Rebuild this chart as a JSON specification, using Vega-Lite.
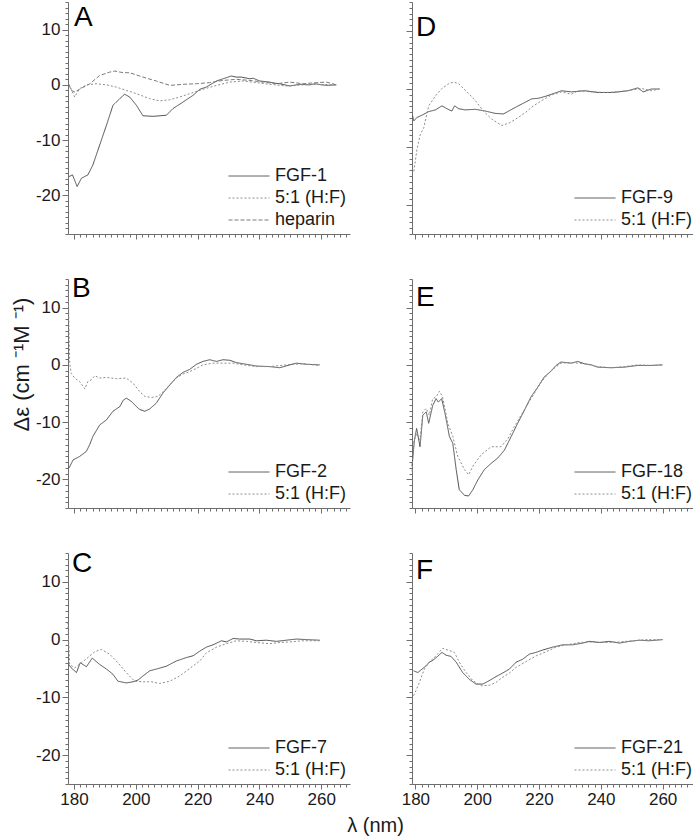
{
  "$schema": "https://vega.github.io/schema/vega-lite/v6.json",
  "background": "white",
  "padding": {"left": 9, "top": -7, "right": 0, "bottom": 2},
  "config": {
    "font": "Liberation Sans",
    "view": {"stroke": null},
    "axis": {"domainColor": "#6e6e6e", "tickColor": "#6e6e6e", "domainWidth": 1, "tickWidth": 1, "labelColor": "#1a1a1a", "labelFontSize": 17, "labelFont": "Liberation Sans", "grid": false, "labelOverlap": false, "labelFlush": false, "titleFontWeight": "normal", "titleColor": "#1a1a1a", "titleFont": "Liberation Sans", "labelPadding": 2},
    "legend": {"orient": "bottom-right", "offset": 3, "symbolType": "stroke", "symbolSize": 1681, "symbolStrokeWidth": 1, "clipHeight": 22, "rowPadding": 0, "labelFontSize": 18, "labelFont": "Liberation Sans", "labelColor": "#1a1a1a", "labelOffset": 5, "padding": 0, "labelLimit": 0},
    "title": {"anchor": "start", "frame": "group", "fontSize": 28, "fontWeight": "normal", "color": "#000000", "baseline": "top", "font": "Liberation Sans"},
    "line": {"strokeWidth": 1, "clip": true}
  },
  "datasets": {
    "A": [
      {"x":178.4,"y":-16.6,"s":"FGF-1"},{"x":179.5,"y":-16.3,"s":"FGF-1"},{"x":181.0,"y":-18.4,"s":"FGF-1"},{"x":182.4,"y":-16.9,"s":"FGF-1"},{"x":184.5,"y":-16.3,"s":"FGF-1"},{"x":186.1,"y":-14.5,"s":"FGF-1"},{"x":188.3,"y":-10.9,"s":"FGF-1"},{"x":190.5,"y":-7.3,"s":"FGF-1"},{"x":192.6,"y":-3.7,"s":"FGF-1"},{"x":194.8,"y":-2.5,"s":"FGF-1"},{"x":196.4,"y":-1.7,"s":"FGF-1"},{"x":198.0,"y":-2.2,"s":"FGF-1"},{"x":200.2,"y":-3.7,"s":"FGF-1"},{"x":202.3,"y":-5.6,"s":"FGF-1"},{"x":205.6,"y":-5.7,"s":"FGF-1"},{"x":209.9,"y":-5.5,"s":"FGF-1"},{"x":212.0,"y":-4.3,"s":"FGF-1"},{"x":215.3,"y":-3.1,"s":"FGF-1"},{"x":218.5,"y":-1.9,"s":"FGF-1"},{"x":220.7,"y":-0.8,"s":"FGF-1"},{"x":222.8,"y":-0.4,"s":"FGF-1"},{"x":226.1,"y":0.7,"s":"FGF-1"},{"x":229.3,"y":1.3,"s":"FGF-1"},{"x":230.9,"y":1.6,"s":"FGF-1"},{"x":232.5,"y":1.4,"s":"FGF-1"},{"x":234.2,"y":1.4,"s":"FGF-1"},{"x":236.9,"y":1.1,"s":"FGF-1"},{"x":238.0,"y":1.2,"s":"FGF-1"},{"x":240.1,"y":0.7,"s":"FGF-1"},{"x":243.3,"y":0.5,"s":"FGF-1"},{"x":245.0,"y":0.3,"s":"FGF-1"},{"x":246.6,"y":0.2,"s":"FGF-1"},{"x":249.8,"y":-0.2,"s":"FGF-1"},{"x":251.0,"y":-0.1,"s":"FGF-1"},{"x":253.0,"y":0.1,"s":"FGF-1"},{"x":256.3,"y":0.0,"s":"FGF-1"},{"x":258.0,"y":0.2,"s":"FGF-1"},{"x":260.0,"y":0.0,"s":"FGF-1"},{"x":262.0,"y":-0.1,"s":"FGF-1"},{"x":264.9,"y":0.0,"s":"FGF-1"},
      {"x":178.4,"y":0.1,"s":"5:1 (H:F)"},{"x":180.2,"y":-2.2,"s":"5:1 (H:F)"},{"x":181.8,"y":-0.7,"s":"5:1 (H:F)"},{"x":184.0,"y":0.0,"s":"5:1 (H:F)"},{"x":187.2,"y":0.2,"s":"5:1 (H:F)"},{"x":190.5,"y":0.0,"s":"5:1 (H:F)"},{"x":193.7,"y":-0.4,"s":"5:1 (H:F)"},{"x":196.9,"y":-1.0,"s":"5:1 (H:F)"},{"x":200.2,"y":-1.6,"s":"5:1 (H:F)"},{"x":204.5,"y":-2.5,"s":"5:1 (H:F)"},{"x":207.7,"y":-2.9,"s":"5:1 (H:F)"},{"x":211.0,"y":-2.7,"s":"5:1 (H:F)"},{"x":214.2,"y":-2.2,"s":"5:1 (H:F)"},{"x":217.4,"y":-1.6,"s":"5:1 (H:F)"},{"x":221.7,"y":-0.8,"s":"5:1 (H:F)"},{"x":226.1,"y":-0.1,"s":"5:1 (H:F)"},{"x":230.4,"y":0.5,"s":"5:1 (H:F)"},{"x":234.7,"y":0.7,"s":"5:1 (H:F)"},{"x":239.0,"y":0.4,"s":"5:1 (H:F)"},{"x":243.3,"y":0.1,"s":"5:1 (H:F)"},{"x":248.7,"y":-0.2,"s":"5:1 (H:F)"},{"x":254.1,"y":0.0,"s":"5:1 (H:F)"},{"x":259.5,"y":0.1,"s":"5:1 (H:F)"},{"x":264.9,"y":0.0,"s":"5:1 (H:F)"},
      {"x":178.4,"y":0.0,"s":"heparin"},{"x":179.1,"y":-1.0,"s":"heparin"},{"x":180.2,"y":-1.3,"s":"heparin"},{"x":181.8,"y":-0.8,"s":"heparin"},{"x":185.1,"y":0.2,"s":"heparin"},{"x":188.3,"y":1.7,"s":"heparin"},{"x":191.5,"y":2.3,"s":"heparin"},{"x":193.2,"y":2.5,"s":"heparin"},{"x":195.9,"y":2.2,"s":"heparin"},{"x":198.0,"y":2.2,"s":"heparin"},{"x":202.3,"y":1.4,"s":"heparin"},{"x":206.6,"y":0.7,"s":"heparin"},{"x":211.0,"y":-0.1,"s":"heparin"},{"x":215.3,"y":0.1,"s":"heparin"},{"x":219.6,"y":0.2,"s":"heparin"},{"x":223.9,"y":0.4,"s":"heparin"},{"x":228.2,"y":0.8,"s":"heparin"},{"x":232.5,"y":1.0,"s":"heparin"},{"x":236.9,"y":0.8,"s":"heparin"},{"x":241.2,"y":0.5,"s":"heparin"},{"x":245.5,"y":0.2,"s":"heparin"},{"x":249.8,"y":0.5,"s":"heparin"},{"x":254.1,"y":0.2,"s":"heparin"},{"x":258.4,"y":0.4,"s":"heparin"},{"x":261.7,"y":0.5,"s":"heparin"},{"x":264.9,"y":0.0,"s":"heparin"}
    ],
    "B": [
      {"x":178.4,"y":-18.0,"s":"FGF-2"},{"x":179.7,"y":-16.6,"s":"FGF-2"},{"x":181.8,"y":-16.0,"s":"FGF-2"},{"x":184.0,"y":-15.1,"s":"FGF-2"},{"x":185.1,"y":-13.9,"s":"FGF-2"},{"x":186.1,"y":-12.5,"s":"FGF-2"},{"x":188.3,"y":-10.5,"s":"FGF-2"},{"x":190.5,"y":-9.6,"s":"FGF-2"},{"x":192.6,"y":-8.1,"s":"FGF-2"},{"x":194.8,"y":-7.3,"s":"FGF-2"},{"x":195.9,"y":-6.2,"s":"FGF-2"},{"x":196.9,"y":-5.8,"s":"FGF-2"},{"x":198.6,"y":-6.4,"s":"FGF-2"},{"x":200.2,"y":-7.3,"s":"FGF-2"},{"x":201.3,"y":-7.8,"s":"FGF-2"},{"x":202.9,"y":-8.1,"s":"FGF-2"},{"x":204.5,"y":-7.7,"s":"FGF-2"},{"x":206.6,"y":-6.7,"s":"FGF-2"},{"x":208.8,"y":-4.9,"s":"FGF-2"},{"x":211.0,"y":-3.5,"s":"FGF-2"},{"x":213.1,"y":-2.2,"s":"FGF-2"},{"x":215.3,"y":-1.3,"s":"FGF-2"},{"x":217.4,"y":-0.8,"s":"FGF-2"},{"x":219.6,"y":0.1,"s":"FGF-2"},{"x":221.7,"y":0.6,"s":"FGF-2"},{"x":223.9,"y":0.9,"s":"FGF-2"},{"x":226.1,"y":0.6,"s":"FGF-2"},{"x":228.2,"y":0.9,"s":"FGF-2"},{"x":230.4,"y":0.8,"s":"FGF-2"},{"x":232.5,"y":0.4,"s":"FGF-2"},{"x":235.8,"y":0.1,"s":"FGF-2"},{"x":239.0,"y":-0.2,"s":"FGF-2"},{"x":243.3,"y":-0.3,"s":"FGF-2"},{"x":246.6,"y":-0.5,"s":"FGF-2"},{"x":249.8,"y":0.0,"s":"FGF-2"},{"x":252.0,"y":0.3,"s":"FGF-2"},{"x":255.2,"y":0.1,"s":"FGF-2"},{"x":259.5,"y":0.0,"s":"FGF-2"},
      {"x":178.1,"y":14.0,"s":"5:1 (H:F)"},{"x":178.4,"y":5.5,"s":"5:1 (H:F)"},{"x":178.6,"y":0.3,"s":"5:1 (H:F)"},{"x":179.1,"y":-1.5,"s":"5:1 (H:F)"},{"x":180.2,"y":-2.3,"s":"5:1 (H:F)"},{"x":181.8,"y":-2.9,"s":"5:1 (H:F)"},{"x":183.5,"y":-4.2,"s":"5:1 (H:F)"},{"x":184.5,"y":-2.9,"s":"5:1 (H:F)"},{"x":185.6,"y":-2.6,"s":"5:1 (H:F)"},{"x":186.7,"y":-1.9,"s":"5:1 (H:F)"},{"x":188.3,"y":-2.3,"s":"5:1 (H:F)"},{"x":190.5,"y":-2.2,"s":"5:1 (H:F)"},{"x":193.7,"y":-2.4,"s":"5:1 (H:F)"},{"x":196.9,"y":-2.3,"s":"5:1 (H:F)"},{"x":199.1,"y":-3.2,"s":"5:1 (H:F)"},{"x":201.3,"y":-4.7,"s":"5:1 (H:F)"},{"x":202.9,"y":-5.5,"s":"5:1 (H:F)"},{"x":205.0,"y":-5.7,"s":"5:1 (H:F)"},{"x":207.2,"y":-5.5,"s":"5:1 (H:F)"},{"x":208.8,"y":-4.7,"s":"5:1 (H:F)"},{"x":211.0,"y":-3.5,"s":"5:1 (H:F)"},{"x":213.1,"y":-2.3,"s":"5:1 (H:F)"},{"x":215.3,"y":-1.6,"s":"5:1 (H:F)"},{"x":217.4,"y":-1.2,"s":"5:1 (H:F)"},{"x":219.6,"y":-0.6,"s":"5:1 (H:F)"},{"x":221.7,"y":0.0,"s":"5:1 (H:F)"},{"x":225.0,"y":0.3,"s":"5:1 (H:F)"},{"x":228.2,"y":0.3,"s":"5:1 (H:F)"},{"x":231.5,"y":0.3,"s":"5:1 (H:F)"},{"x":234.7,"y":0.0,"s":"5:1 (H:F)"},{"x":239.0,"y":-0.3,"s":"5:1 (H:F)"},{"x":243.3,"y":-0.3,"s":"5:1 (H:F)"},{"x":248.7,"y":0.0,"s":"5:1 (H:F)"},{"x":254.1,"y":0.2,"s":"5:1 (H:F)"},{"x":259.5,"y":-0.1,"s":"5:1 (H:F)"}
    ],
    "C": [
      {"x":178.3,"y":-4.3,"s":"FGF-7"},{"x":179.1,"y":-4.9,"s":"FGF-7"},{"x":180.8,"y":-5.7,"s":"FGF-7"},{"x":182.0,"y":-4.0,"s":"FGF-7"},{"x":182.9,"y":-4.3,"s":"FGF-7"},{"x":184.0,"y":-4.7,"s":"FGF-7"},{"x":185.9,"y":-3.2,"s":"FGF-7"},{"x":188.3,"y":-4.3,"s":"FGF-7"},{"x":190.5,"y":-5.1,"s":"FGF-7"},{"x":192.6,"y":-6.0,"s":"FGF-7"},{"x":194.2,"y":-7.2,"s":"FGF-7"},{"x":196.9,"y":-7.5,"s":"FGF-7"},{"x":199.1,"y":-7.3,"s":"FGF-7"},{"x":200.7,"y":-7.0,"s":"FGF-7"},{"x":202.3,"y":-6.3,"s":"FGF-7"},{"x":204.5,"y":-5.4,"s":"FGF-7"},{"x":206.6,"y":-5.1,"s":"FGF-7"},{"x":209.9,"y":-4.6,"s":"FGF-7"},{"x":213.1,"y":-3.7,"s":"FGF-7"},{"x":216.4,"y":-3.1,"s":"FGF-7"},{"x":218.5,"y":-2.8,"s":"FGF-7"},{"x":220.7,"y":-2.0,"s":"FGF-7"},{"x":222.8,"y":-1.3,"s":"FGF-7"},{"x":225.0,"y":-0.9,"s":"FGF-7"},{"x":227.7,"y":-0.2,"s":"FGF-7"},{"x":229.3,"y":-0.4,"s":"FGF-7"},{"x":231.5,"y":0.2,"s":"FGF-7"},{"x":233.6,"y":0.1,"s":"FGF-7"},{"x":236.9,"y":0.1,"s":"FGF-7"},{"x":239.0,"y":-0.2,"s":"FGF-7"},{"x":242.2,"y":-0.1,"s":"FGF-7"},{"x":245.5,"y":-0.3,"s":"FGF-7"},{"x":248.7,"y":-0.1,"s":"FGF-7"},{"x":252.0,"y":0.1,"s":"FGF-7"},{"x":255.2,"y":0.0,"s":"FGF-7"},{"x":259.5,"y":-0.1,"s":"FGF-7"},
      {"x":178.0,"y":3.0,"s":"5:1 (H:F)"},{"x":178.6,"y":-4.3,"s":"5:1 (H:F)"},{"x":180.2,"y":-4.9,"s":"5:1 (H:F)"},{"x":182.4,"y":-4.0,"s":"5:1 (H:F)"},{"x":184.5,"y":-3.1,"s":"5:1 (H:F)"},{"x":186.7,"y":-2.1,"s":"5:1 (H:F)"},{"x":188.8,"y":-1.7,"s":"5:1 (H:F)"},{"x":191.5,"y":-2.5,"s":"5:1 (H:F)"},{"x":194.2,"y":-4.0,"s":"5:1 (H:F)"},{"x":196.9,"y":-5.7,"s":"5:1 (H:F)"},{"x":199.6,"y":-7.2,"s":"5:1 (H:F)"},{"x":202.3,"y":-7.3,"s":"5:1 (H:F)"},{"x":205.0,"y":-7.3,"s":"5:1 (H:F)"},{"x":207.7,"y":-7.6,"s":"5:1 (H:F)"},{"x":211.0,"y":-7.2,"s":"5:1 (H:F)"},{"x":214.2,"y":-6.3,"s":"5:1 (H:F)"},{"x":217.4,"y":-5.0,"s":"5:1 (H:F)"},{"x":220.7,"y":-3.7,"s":"5:1 (H:F)"},{"x":222.8,"y":-2.3,"s":"5:1 (H:F)"},{"x":226.1,"y":-1.3,"s":"5:1 (H:F)"},{"x":229.3,"y":-0.7,"s":"5:1 (H:F)"},{"x":232.5,"y":-0.2,"s":"5:1 (H:F)"},{"x":235.8,"y":-0.3,"s":"5:1 (H:F)"},{"x":239.0,"y":-0.5,"s":"5:1 (H:F)"},{"x":243.3,"y":-0.7,"s":"5:1 (H:F)"},{"x":246.6,"y":-0.5,"s":"5:1 (H:F)"},{"x":249.8,"y":-0.4,"s":"5:1 (H:F)"},{"x":254.1,"y":-0.2,"s":"5:1 (H:F)"},{"x":259.5,"y":-0.2,"s":"5:1 (H:F)"}
    ],
    "D": [
      {"x":179.1,"y":-4.6,"s":"FGF-9"},{"x":179.5,"y":-5.5,"s":"FGF-9"},{"x":180.5,"y":-4.9,"s":"FGF-9"},{"x":182.2,"y":-4.5,"s":"FGF-9"},{"x":184.3,"y":-3.9,"s":"FGF-9"},{"x":186.5,"y":-3.6,"s":"FGF-9"},{"x":188.6,"y":-2.9,"s":"FGF-9"},{"x":190.2,"y":-3.4,"s":"FGF-9"},{"x":191.8,"y":-3.8,"s":"FGF-9"},{"x":192.7,"y":-2.9,"s":"FGF-9"},{"x":194.0,"y":-3.4,"s":"FGF-9"},{"x":196.1,"y":-3.6,"s":"FGF-9"},{"x":199.4,"y":-3.5,"s":"FGF-9"},{"x":202.6,"y":-3.8,"s":"FGF-9"},{"x":205.8,"y":-4.2,"s":"FGF-9"},{"x":208.5,"y":-4.3,"s":"FGF-9"},{"x":211.2,"y":-3.5,"s":"FGF-9"},{"x":213.3,"y":-2.9,"s":"FGF-9"},{"x":215.5,"y":-2.3,"s":"FGF-9"},{"x":217.6,"y":-1.7,"s":"FGF-9"},{"x":219.8,"y":-1.6,"s":"FGF-9"},{"x":221.9,"y":-1.3,"s":"FGF-9"},{"x":224.1,"y":-0.9,"s":"FGF-9"},{"x":227.3,"y":-0.3,"s":"FGF-9"},{"x":230.5,"y":-0.5,"s":"FGF-9"},{"x":234.8,"y":-0.3,"s":"FGF-9"},{"x":239.1,"y":-0.6,"s":"FGF-9"},{"x":243.4,"y":-0.6,"s":"FGF-9"},{"x":245.6,"y":-0.5,"s":"FGF-9"},{"x":248.8,"y":-0.3,"s":"FGF-9"},{"x":252.0,"y":0.2,"s":"FGF-9"},{"x":253.7,"y":-0.5,"s":"FGF-9"},{"x":256.3,"y":0.0,"s":"FGF-9"},{"x":259.0,"y":0.0,"s":"FGF-9"},
      {"x":179.5,"y":-14.2,"s":"5:1 (H:F)"},{"x":180.5,"y":-10.4,"s":"5:1 (H:F)"},{"x":181.6,"y":-7.8,"s":"5:1 (H:F)"},{"x":182.7,"y":-6.7,"s":"5:1 (H:F)"},{"x":184.3,"y":-2.9,"s":"5:1 (H:F)"},{"x":186.5,"y":-1.2,"s":"5:1 (H:F)"},{"x":188.6,"y":0.1,"s":"5:1 (H:F)"},{"x":190.8,"y":0.9,"s":"5:1 (H:F)"},{"x":192.4,"y":1.2,"s":"5:1 (H:F)"},{"x":194.0,"y":0.9,"s":"5:1 (H:F)"},{"x":196.7,"y":-0.5,"s":"5:1 (H:F)"},{"x":199.4,"y":-2.0,"s":"5:1 (H:F)"},{"x":202.0,"y":-3.8,"s":"5:1 (H:F)"},{"x":204.7,"y":-5.2,"s":"5:1 (H:F)"},{"x":208.0,"y":-6.3,"s":"5:1 (H:F)"},{"x":210.6,"y":-5.8,"s":"5:1 (H:F)"},{"x":213.3,"y":-4.9,"s":"5:1 (H:F)"},{"x":215.5,"y":-4.1,"s":"5:1 (H:F)"},{"x":218.2,"y":-2.9,"s":"5:1 (H:F)"},{"x":220.9,"y":-2.0,"s":"5:1 (H:F)"},{"x":224.1,"y":-1.0,"s":"5:1 (H:F)"},{"x":227.3,"y":-0.5,"s":"5:1 (H:F)"},{"x":230.5,"y":-0.9,"s":"5:1 (H:F)"},{"x":232.7,"y":-0.3,"s":"5:1 (H:F)"},{"x":237.0,"y":-0.5,"s":"5:1 (H:F)"},{"x":241.3,"y":-0.6,"s":"5:1 (H:F)"},{"x":245.6,"y":-0.5,"s":"5:1 (H:F)"},{"x":249.9,"y":-0.2,"s":"5:1 (H:F)"},{"x":253.1,"y":0.1,"s":"5:1 (H:F)"},{"x":256.3,"y":-0.3,"s":"5:1 (H:F)"},{"x":259.0,"y":0.0,"s":"5:1 (H:F)"}
    ],
    "E": [
      {"x":178.9,"y":-17.7,"s":"FGF-18"},{"x":179.7,"y":-13.1,"s":"FGF-18"},{"x":180.4,"y":-11.1,"s":"FGF-18"},{"x":181.5,"y":-14.3,"s":"FGF-18"},{"x":182.4,"y":-8.8,"s":"FGF-18"},{"x":183.5,"y":-8.2,"s":"FGF-18"},{"x":184.3,"y":-10.2,"s":"FGF-18"},{"x":185.6,"y":-7.1,"s":"FGF-18"},{"x":186.7,"y":-5.9,"s":"FGF-18"},{"x":187.4,"y":-6.5,"s":"FGF-18"},{"x":188.5,"y":-5.9,"s":"FGF-18"},{"x":189.6,"y":-8.5,"s":"FGF-18"},{"x":191.0,"y":-12.5,"s":"FGF-18"},{"x":192.1,"y":-13.7,"s":"FGF-18"},{"x":193.2,"y":-18.3,"s":"FGF-18"},{"x":194.2,"y":-21.8,"s":"FGF-18"},{"x":195.9,"y":-22.8,"s":"FGF-18"},{"x":197.2,"y":-22.9,"s":"FGF-18"},{"x":198.6,"y":-21.8,"s":"FGF-18"},{"x":200.2,"y":-20.1,"s":"FGF-18"},{"x":202.3,"y":-18.3,"s":"FGF-18"},{"x":204.5,"y":-17.2,"s":"FGF-18"},{"x":206.6,"y":-16.3,"s":"FGF-18"},{"x":208.8,"y":-14.9,"s":"FGF-18"},{"x":211.0,"y":-12.5,"s":"FGF-18"},{"x":213.1,"y":-10.2,"s":"FGF-18"},{"x":215.3,"y":-7.9,"s":"FGF-18"},{"x":217.4,"y":-5.6,"s":"FGF-18"},{"x":219.6,"y":-3.9,"s":"FGF-18"},{"x":221.7,"y":-2.1,"s":"FGF-18"},{"x":223.9,"y":-1.1,"s":"FGF-18"},{"x":225.5,"y":-0.1,"s":"FGF-18"},{"x":227.1,"y":0.5,"s":"FGF-18"},{"x":230.4,"y":0.3,"s":"FGF-18"},{"x":232.5,"y":0.6,"s":"FGF-18"},{"x":234.7,"y":0.2,"s":"FGF-18"},{"x":236.9,"y":0.0,"s":"FGF-18"},{"x":239.0,"y":-0.4,"s":"FGF-18"},{"x":243.3,"y":-0.5,"s":"FGF-18"},{"x":247.6,"y":-0.4,"s":"FGF-18"},{"x":252.0,"y":-0.1,"s":"FGF-18"},{"x":256.3,"y":-0.1,"s":"FGF-18"},{"x":260.0,"y":0.0,"s":"FGF-18"},
      {"x":178.9,"y":-18.6,"s":"5:1 (H:F)"},{"x":179.5,"y":-13.4,"s":"5:1 (H:F)"},{"x":180.4,"y":-12.0,"s":"5:1 (H:F)"},{"x":181.5,"y":-13.1,"s":"5:1 (H:F)"},{"x":182.4,"y":-8.2,"s":"5:1 (H:F)"},{"x":183.5,"y":-7.6,"s":"5:1 (H:F)"},{"x":184.5,"y":-8.8,"s":"5:1 (H:F)"},{"x":185.6,"y":-5.9,"s":"5:1 (H:F)"},{"x":186.7,"y":-5.6,"s":"5:1 (H:F)"},{"x":187.8,"y":-4.6,"s":"5:1 (H:F)"},{"x":188.8,"y":-5.6,"s":"5:1 (H:F)"},{"x":190.5,"y":-10.2,"s":"5:1 (H:F)"},{"x":192.1,"y":-12.5,"s":"5:1 (H:F)"},{"x":193.7,"y":-16.0,"s":"5:1 (H:F)"},{"x":195.9,"y":-18.3,"s":"5:1 (H:F)"},{"x":197.2,"y":-19.2,"s":"5:1 (H:F)"},{"x":198.6,"y":-17.7,"s":"5:1 (H:F)"},{"x":201.3,"y":-15.7,"s":"5:1 (H:F)"},{"x":204.5,"y":-14.3,"s":"5:1 (H:F)"},{"x":207.7,"y":-14.3,"s":"5:1 (H:F)"},{"x":209.9,"y":-12.9,"s":"5:1 (H:F)"},{"x":212.0,"y":-10.8,"s":"5:1 (H:F)"},{"x":214.2,"y":-8.8,"s":"5:1 (H:F)"},{"x":217.4,"y":-5.9,"s":"5:1 (H:F)"},{"x":220.7,"y":-3.0,"s":"5:1 (H:F)"},{"x":223.9,"y":-1.0,"s":"5:1 (H:F)"},{"x":227.1,"y":0.3,"s":"5:1 (H:F)"},{"x":230.4,"y":0.4,"s":"5:1 (H:F)"},{"x":234.7,"y":0.2,"s":"5:1 (H:F)"},{"x":239.0,"y":-0.3,"s":"5:1 (H:F)"},{"x":243.3,"y":-0.5,"s":"5:1 (H:F)"},{"x":247.6,"y":-0.3,"s":"5:1 (H:F)"},{"x":252.0,"y":0.0,"s":"5:1 (H:F)"},{"x":256.3,"y":-0.1,"s":"5:1 (H:F)"},{"x":260.0,"y":0.0,"s":"5:1 (H:F)"}
    ],
    "F": [
      {"x":179.4,"y":-5.4,"s":"FGF-21"},{"x":180.8,"y":-5.7,"s":"FGF-21"},{"x":182.4,"y":-5.0,"s":"FGF-21"},{"x":183.5,"y":-4.5,"s":"FGF-21"},{"x":184.5,"y":-3.9,"s":"FGF-21"},{"x":185.6,"y":-3.6,"s":"FGF-21"},{"x":187.2,"y":-2.9,"s":"FGF-21"},{"x":188.6,"y":-2.2,"s":"FGF-21"},{"x":189.9,"y":-2.7,"s":"FGF-21"},{"x":191.5,"y":-2.9,"s":"FGF-21"},{"x":193.2,"y":-3.9,"s":"FGF-21"},{"x":195.3,"y":-5.7,"s":"FGF-21"},{"x":197.5,"y":-6.9,"s":"FGF-21"},{"x":199.6,"y":-7.7,"s":"FGF-21"},{"x":201.8,"y":-7.7,"s":"FGF-21"},{"x":203.9,"y":-7.1,"s":"FGF-21"},{"x":206.1,"y":-6.4,"s":"FGF-21"},{"x":208.2,"y":-5.8,"s":"FGF-21"},{"x":210.4,"y":-5.1,"s":"FGF-21"},{"x":212.6,"y":-3.9,"s":"FGF-21"},{"x":214.7,"y":-3.4,"s":"FGF-21"},{"x":216.9,"y":-2.5,"s":"FGF-21"},{"x":219.1,"y":-2.2,"s":"FGF-21"},{"x":221.2,"y":-1.8,"s":"FGF-21"},{"x":224.4,"y":-1.3,"s":"FGF-21"},{"x":227.6,"y":-0.9,"s":"FGF-21"},{"x":230.9,"y":-0.9,"s":"FGF-21"},{"x":234.1,"y":-0.6,"s":"FGF-21"},{"x":236.3,"y":-0.3,"s":"FGF-21"},{"x":239.5,"y":-0.5,"s":"FGF-21"},{"x":242.8,"y":-0.3,"s":"FGF-21"},{"x":246.0,"y":-0.6,"s":"FGF-21"},{"x":249.3,"y":-0.3,"s":"FGF-21"},{"x":252.5,"y":-0.1,"s":"FGF-21"},{"x":255.7,"y":-0.2,"s":"FGF-21"},{"x":260.0,"y":0.0,"s":"FGF-21"},
      {"x":179.4,"y":-9.7,"s":"5:1 (H:F)"},{"x":180.2,"y":-8.8,"s":"5:1 (H:F)"},{"x":181.3,"y":-7.4,"s":"5:1 (H:F)"},{"x":182.9,"y":-5.1,"s":"5:1 (H:F)"},{"x":184.5,"y":-3.9,"s":"5:1 (H:F)"},{"x":186.7,"y":-2.8,"s":"5:1 (H:F)"},{"x":188.8,"y":-1.5,"s":"5:1 (H:F)"},{"x":191.0,"y":-1.9,"s":"5:1 (H:F)"},{"x":192.6,"y":-2.2,"s":"5:1 (H:F)"},{"x":194.2,"y":-3.9,"s":"5:1 (H:F)"},{"x":196.4,"y":-5.7,"s":"5:1 (H:F)"},{"x":198.6,"y":-7.1,"s":"5:1 (H:F)"},{"x":201.3,"y":-8.0,"s":"5:1 (H:F)"},{"x":204.0,"y":-7.9,"s":"5:1 (H:F)"},{"x":206.1,"y":-7.4,"s":"5:1 (H:F)"},{"x":208.3,"y":-6.5,"s":"5:1 (H:F)"},{"x":210.4,"y":-5.8,"s":"5:1 (H:F)"},{"x":212.6,"y":-4.8,"s":"5:1 (H:F)"},{"x":215.8,"y":-3.8,"s":"5:1 (H:F)"},{"x":219.1,"y":-2.8,"s":"5:1 (H:F)"},{"x":222.3,"y":-2.1,"s":"5:1 (H:F)"},{"x":225.5,"y":-1.3,"s":"5:1 (H:F)"},{"x":228.8,"y":-0.9,"s":"5:1 (H:F)"},{"x":233.1,"y":-0.5,"s":"5:1 (H:F)"},{"x":237.4,"y":-0.4,"s":"5:1 (H:F)"},{"x":241.7,"y":-0.5,"s":"5:1 (H:F)"},{"x":246.0,"y":-0.4,"s":"5:1 (H:F)"},{"x":250.3,"y":-0.2,"s":"5:1 (H:F)"},{"x":254.6,"y":0.0,"s":"5:1 (H:F)"},{"x":260.0,"y":0.0,"s":"5:1 (H:F)"}
    ]
  },
  "bounds": "flush",
  "columns": 2,
  "spacing": {"row": 45, "column": 62},
  "resolve": {"scale": {"color": "independent", "strokeDash": "independent"}},
  "concat": [
    {
      "width": 282, "height": 232,
      "title": {"text": "A", "dx": 6, "offset": -39},
      "data": {"name": "A"},
      "mark": "line",
      "encoding": {
        "x": {"field": "x", "type": "quantitative", "scale": {"domain": [178.05, 269.3], "nice": false, "zero": false},
              "axis": {"title": null, "labels": false, "values": [180,182,184,186,188,190,192,194,196,198,200,202,204,206,208,210,212,214,216,218,220,222,224,226,228,230,232,234,236,238,240,242,244,246,248,250,252,254,256,258,260,262,264,266,268], "tickSize": {"condition": {"test": "datum.value % 20 === 0", "value": 5}, "value": 3}}},
        "y": {"field": "y", "type": "quantitative", "scale": {"domain": [-27, 15], "nice": false, "zero": false},
              "axis": {"title": null, "values": [-27,-26,-25,-24,-23,-22,-21,-20,-19,-18,-17,-16,-15,-14,-13,-12,-11,-10,-9,-8,-7,-6,-5,-4,-3,-2,-1,0,1,2,3,4,5,6,7,8,9,10,11,12,13,14,15], "labelExpr": "datum.value % 10 === 0 ? '' + datum.value : ''", "tickSize": {"condition": {"test": "datum.value % 10 === 0", "value": 6}, "value": 3}}},
        "color": {"field": "s", "type": "nominal", "title": null, "scale": {"domain": ["FGF-1", "5:1 (H:F)", "heparin"], "range": ["#4d4d4d", "#8c8c8c", "#7a7a7a"]}},
        "strokeDash": {"field": "s", "type": "nominal", "title": null, "scale": {"domain": ["FGF-1", "5:1 (H:F)", "heparin"], "range": [[1, 0], [2, 2], [4, 2]]}}
      }
    },
    {
      "width": 284, "height": 232,
      "title": {"text": "D", "dx": 4, "offset": -40},
      "data": {"name": "D"},
      "mark": "line",
      "encoding": {
        "x": {"field": "x", "type": "quantitative", "scale": {"domain": [178.9, 270.8], "nice": false, "zero": false},
              "axis": {"title": null, "labels": false, "values": [180,182,184,186,188,190,192,194,196,198,200,202,204,206,208,210,212,214,216,218,220,222,224,226,228,230,232,234,236,238,240,242,244,246,248,250,252,254,256,258,260,262,264,266,268,270], "tickSize": {"condition": {"test": "datum.value % 20 === 0", "value": 5}, "value": 3}}},
        "y": {"field": "y", "type": "quantitative", "scale": {"domain": [-25, 15], "nice": false, "zero": false},
              "axis": {"title": null, "labels": false, "values": [-25,-24,-23,-22,-21,-20,-19,-18,-17,-16,-15,-14,-13,-12,-11,-10,-9,-8,-7,-6,-5,-4,-3,-2,-1,0,1,2,3,4,5,6,7,8,9,10,11,12,13,14,15], "tickSize": {"condition": {"test": "datum.value % 10 === 0", "value": 6}, "value": 3}}},
        "color": {"field": "s", "type": "nominal", "title": null, "scale": {"domain": ["FGF-9", "5:1 (H:F)"], "range": ["#4d4d4d", "#8c8c8c"]}},
        "strokeDash": {"field": "s", "type": "nominal", "title": null, "scale": {"domain": ["FGF-9", "5:1 (H:F)"], "range": [[1, 0], [2, 2]]}}
      }
    },
    {
      "width": 282, "height": 229,
      "title": {"text": "B", "dx": 4, "offset": -33},
      "data": {"name": "B"},
      "mark": "line",
      "encoding": {
        "x": {"field": "x", "type": "quantitative", "scale": {"domain": [178.05, 269.3], "nice": false, "zero": false},
              "axis": {"title": null, "labels": false, "values": [180,182,184,186,188,190,192,194,196,198,200,202,204,206,208,210,212,214,216,218,220,222,224,226,228,230,232,234,236,238,240,242,244,246,248,250,252,254,256,258,260,262,264,266,268], "tickSize": {"condition": {"test": "datum.value % 20 === 0", "value": 5}, "value": 3}}},
        "y": {"field": "y", "type": "quantitative", "scale": {"domain": [-25, 15], "nice": false, "zero": false},
              "axis": {"title": "Δε  (cm ⁻¹M ⁻¹)", "titleFontSize": 22, "titleX": -47, "titleY": 85, "titleAngle": -90, "titleAlign": "center", "titleBaseline": "middle", "values": [-25,-24,-23,-22,-21,-20,-19,-18,-17,-16,-15,-14,-13,-12,-11,-10,-9,-8,-7,-6,-5,-4,-3,-2,-1,0,1,2,3,4,5,6,7,8,9,10,11,12,13,14,15], "labelExpr": "datum.value % 10 === 0 ? '' + datum.value : ''", "tickSize": {"condition": {"test": "datum.value % 10 === 0", "value": 6}, "value": 3}}},
        "color": {"field": "s", "type": "nominal", "title": null, "scale": {"domain": ["FGF-2", "5:1 (H:F)"], "range": ["#4d4d4d", "#8c8c8c"]}},
        "strokeDash": {"field": "s", "type": "nominal", "title": null, "scale": {"domain": ["FGF-2", "5:1 (H:F)"], "range": [[1, 0], [2, 2]]}}
      }
    },
    {
      "width": 284, "height": 229,
      "title": {"text": "E", "dx": 4, "offset": -33},
      "data": {"name": "E"},
      "mark": "line",
      "encoding": {
        "x": {"field": "x", "type": "quantitative", "scale": {"domain": [178.9, 270.8], "nice": false, "zero": false},
              "axis": {"title": null, "labels": false, "values": [180,182,184,186,188,190,192,194,196,198,200,202,204,206,208,210,212,214,216,218,220,222,224,226,228,230,232,234,236,238,240,242,244,246,248,250,252,254,256,258,260,262,264,266,268,270], "tickSize": {"condition": {"test": "datum.value % 20 === 0", "value": 5}, "value": 3}}},
        "y": {"field": "y", "type": "quantitative", "scale": {"domain": [-25, 15], "nice": false, "zero": false},
              "axis": {"title": null, "labels": false, "values": [-25,-24,-23,-22,-21,-20,-19,-18,-17,-16,-15,-14,-13,-12,-11,-10,-9,-8,-7,-6,-5,-4,-3,-2,-1,0,1,2,3,4,5,6,7,8,9,10,11,12,13,14,15], "tickSize": {"condition": {"test": "datum.value % 10 === 0", "value": 6}, "value": 3}}},
        "color": {"field": "s", "type": "nominal", "title": null, "scale": {"domain": ["FGF-18", "5:1 (H:F)"], "range": ["#4d4d4d", "#8c8c8c"]}},
        "strokeDash": {"field": "s", "type": "nominal", "title": null, "scale": {"domain": ["FGF-18", "5:1 (H:F)"], "range": [[1, 0], [2, 2]]}}
      }
    },
    {
      "width": 282, "height": 231,
      "title": {"text": "C", "dx": 4, "offset": -34},
      "data": {"name": "C"},
      "mark": "line",
      "encoding": {
        "x": {"field": "x", "type": "quantitative", "scale": {"domain": [178.05, 269.3], "nice": false, "zero": false},
              "axis": {"title": "λ (nm)", "titleFontSize": 20, "titleX": 307, "titleY": 41, "titleAlign": "center", "titleBaseline": "middle", "values": [180,182,184,186,188,190,192,194,196,198,200,202,204,206,208,210,212,214,216,218,220,222,224,226,228,230,232,234,236,238,240,242,244,246,248,250,252,254,256,258,260,262,264,266,268], "labelExpr": "datum.value % 20 === 0 ? datum.label : ''", "tickSize": {"condition": {"test": "datum.value % 20 === 0", "value": 5}, "value": 3}}},
        "y": {"field": "y", "type": "quantitative", "scale": {"domain": [-25, 15], "nice": false, "zero": false},
              "axis": {"title": null, "values": [-25,-24,-23,-22,-21,-20,-19,-18,-17,-16,-15,-14,-13,-12,-11,-10,-9,-8,-7,-6,-5,-4,-3,-2,-1,0,1,2,3,4,5,6,7,8,9,10,11,12,13,14,15], "labelExpr": "datum.value % 10 === 0 ? '' + datum.value : ''", "tickSize": {"condition": {"test": "datum.value % 10 === 0", "value": 6}, "value": 3}}},
        "color": {"field": "s", "type": "nominal", "title": null, "scale": {"domain": ["FGF-7", "5:1 (H:F)"], "range": ["#4d4d4d", "#8c8c8c"]}},
        "strokeDash": {"field": "s", "type": "nominal", "title": null, "scale": {"domain": ["FGF-7", "5:1 (H:F)"], "range": [[1, 0], [2, 2]]}}
      }
    },
    {
      "width": 284, "height": 231,
      "title": {"text": "F", "dx": 4, "offset": -32},
      "data": {"name": "F"},
      "mark": "line",
      "encoding": {
        "x": {"field": "x", "type": "quantitative", "scale": {"domain": [178.9, 270.8], "nice": false, "zero": false},
              "axis": {"title": null, "values": [180,182,184,186,188,190,192,194,196,198,200,202,204,206,208,210,212,214,216,218,220,222,224,226,228,230,232,234,236,238,240,242,244,246,248,250,252,254,256,258,260,262,264,266,268,270], "labelExpr": "datum.value % 20 === 0 ? datum.label : ''", "tickSize": {"condition": {"test": "datum.value % 20 === 0", "value": 5}, "value": 3}}},
        "y": {"field": "y", "type": "quantitative", "scale": {"domain": [-25, 15], "nice": false, "zero": false},
              "axis": {"title": null, "labels": false, "values": [-25,-24,-23,-22,-21,-20,-19,-18,-17,-16,-15,-14,-13,-12,-11,-10,-9,-8,-7,-6,-5,-4,-3,-2,-1,0,1,2,3,4,5,6,7,8,9,10,11,12,13,14,15], "tickSize": {"condition": {"test": "datum.value % 10 === 0", "value": 6}, "value": 3}}},
        "color": {"field": "s", "type": "nominal", "title": null, "scale": {"domain": ["FGF-21", "5:1 (H:F)"], "range": ["#4d4d4d", "#8c8c8c"]}},
        "strokeDash": {"field": "s", "type": "nominal", "title": null, "scale": {"domain": ["FGF-21", "5:1 (H:F)"], "range": [[1, 0], [2, 2]]}}
      }
    }
  ]
}
